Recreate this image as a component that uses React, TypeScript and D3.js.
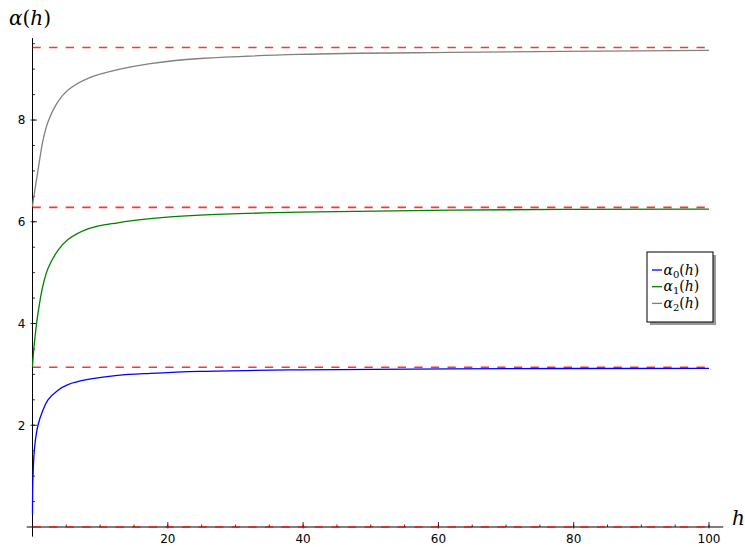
import React from "react";
import * as d3 from "d3";

// ---- data ----
const hValues = [0, 0.07, 0.32, 0.81, 1.55, 2.29, 3.77, 5.25, 8.2, 12.6, 17.4, 24.8, 39.5, 61.7, 100];
const alpha0 = [0.25, 0.99, 1.58, 2.0, 2.3, 2.5, 2.69, 2.8, 2.9, 2.98, 3.02, 3.06, 3.09, 3.11, 3.12];
const alpha1 = [3.15, 3.3, 3.67, 4.2, 4.75, 5.08, 5.44, 5.65, 5.86, 5.98, 6.06, 6.13, 6.19, 6.23, 6.25];
const alpha2 = [6.3, 6.38, 6.6, 7.01, 7.6, 7.96, 8.36, 8.59, 8.82, 8.99, 9.11, 9.21, 9.29, 9.33, 9.37];
const asymptotes = [0, Math.PI, 2 * Math.PI, 3 * Math.PI];
const seriesNames = ["0", "1", "2"];
const seriesColors = ["#0000ff", "#008000", "#808080"];
const xMajorTicks = [20, 40, 60, 80, 100];
const xMinorTicks = d3.range(5, 101, 5);
const yMajorTicks = [2, 4, 6, 8];
const yMinorTicks = d3.range(0.5, 9.51, 0.5);

const W = 745;
const H = 547;

export default function App() {
  const x = d3.scaleLinear().domain([0, 100]).range([32.5, 709]);
  const y = d3.scaleLinear().domain([0, 9]).range([527, 527 - 9 * 50.87]);
  const series = [alpha0, alpha1, alpha2];
  const line = d3
    .line<[number, number]>()
    .x((d) => x(d[0]))
    .y((d) => y(d[1]))
    .curve(d3.curveCatmullRom.alpha(0.5));

  const x0 = x(0);
  const y0 = y(0);
  const mathFont = "'DejaVu Serif', serif";
  const tickFont = "'DejaVu Sans', sans-serif";

  // legend geometry
  const lgX = 647;
  const lgY = 252;
  const lgW = 66;
  const lgH = 70;
  const rowH = 16.7;

  return (
    <svg
      width={W}
      height={H}
      style={{ position: "absolute", left: 0, top: 0, background: "#fff" }}
    >
      <rect x={0} y={0} width={W} height={H} fill="#fff" />
      {/* axes */}
      <line x1={x(-0.85)} x2={x(102.1)} y1={y0} y2={y0} stroke="#000" strokeWidth={1} />
      <line x1={x0} x2={x0} y1={y(-0.19)} y2={y(9.61)} stroke="#000" strokeWidth={1} />

      {/* x ticks */}
      {xMinorTicks.map((t) => (
        <line key={"xm" + t} x1={x(t)} x2={x(t)} y1={y0} y2={y0 - 2.5} stroke="#000" strokeWidth={0.8} />
      ))}
      {xMajorTicks.map((t) => (
        <g key={"xM" + t}>
          <line x1={x(t)} x2={x(t)} y1={y0 + 1.5} y2={y0 - 5} stroke="#000" strokeWidth={0.8} />
          <text x={x(t)} y={543} textAnchor="middle" fontFamily={tickFont} fontSize={12} fill="#000">
            {t}
          </text>
        </g>
      ))}

      {/* y ticks */}
      {yMinorTicks.map((t) => (
        <line key={"ym" + t} x1={x0} x2={x0 + 2.5} y1={y(t)} y2={y(t)} stroke="#000" strokeWidth={0.8} />
      ))}
      {yMajorTicks.map((t) => (
        <g key={"yM" + t}>
          <line x1={x0 - 2} x2={x0 + 4.5} y1={y(t)} y2={y(t)} stroke="#000" strokeWidth={0.8} />
          <text x={25.5} y={y(t) + 4.3} textAnchor="end" fontFamily={tickFont} fontSize={12} fill="#000">
            {t}
          </text>
        </g>
      ))}

      {/* asymptotes */}
      {asymptotes.map((a, i) => (
        <line
          key={"as" + i}
          x1={x(0)}
          x2={x(100)}
          y1={y(a)}
          y2={y(a)}
          stroke="#ff0000"
          strokeOpacity={0.8}
          strokeWidth={1.6}
          strokeDasharray="8.3 8.3"
        />
      ))}

      {/* curves */}
      {series.map((vals, i) => (
        <path
          key={"s" + i}
          d={line(hValues.map((h, j) => [h, vals[j]] as [number, number])) || ""}
          fill="none"
          stroke={seriesColors[i]}
          strokeWidth={1.3}
        />
      ))}

      {/* axis labels */}
      <text x={9} y={25} fontFamily={mathFont} fontSize={20} fill="#000">
        <tspan fontStyle="italic">α</tspan>
        <tspan>(</tspan>
        <tspan fontStyle="italic">h</tspan>
        <tspan>)</tspan>
      </text>
      <text x={732} y={525} fontFamily={mathFont} fontSize={20} fontStyle="italic" fill="#000">
        h
      </text>

      {/* legend */}
      <rect x={lgX + 3} y={lgY + 3} width={lgW} height={lgH} fill="#999" />
      <rect x={lgX} y={lgY} width={lgW} height={lgH} fill="#fff" stroke="#000" strokeWidth={1} />
      {seriesNames.map((n, i) => {
        const cy = lgY + 18 + i * rowH;
        return (
          <g key={"lg" + n}>
            <line x1={lgX + 5} x2={lgX + 15} y1={cy} y2={cy} stroke={seriesColors[i]} strokeWidth={1.3} />
            <text x={lgX + 16.5} y={cy + 4.5} fontFamily={mathFont} fontSize={14} fill="#000">
              <tspan fontStyle="italic">α</tspan>
              <tspan fontSize={10} dy={3}>{n}</tspan>
              <tspan dy={-3}>(</tspan>
              <tspan fontStyle="italic">h</tspan>
              <tspan>)</tspan>
            </text>
          </g>
        );
      })}
    </svg>
  );
}
